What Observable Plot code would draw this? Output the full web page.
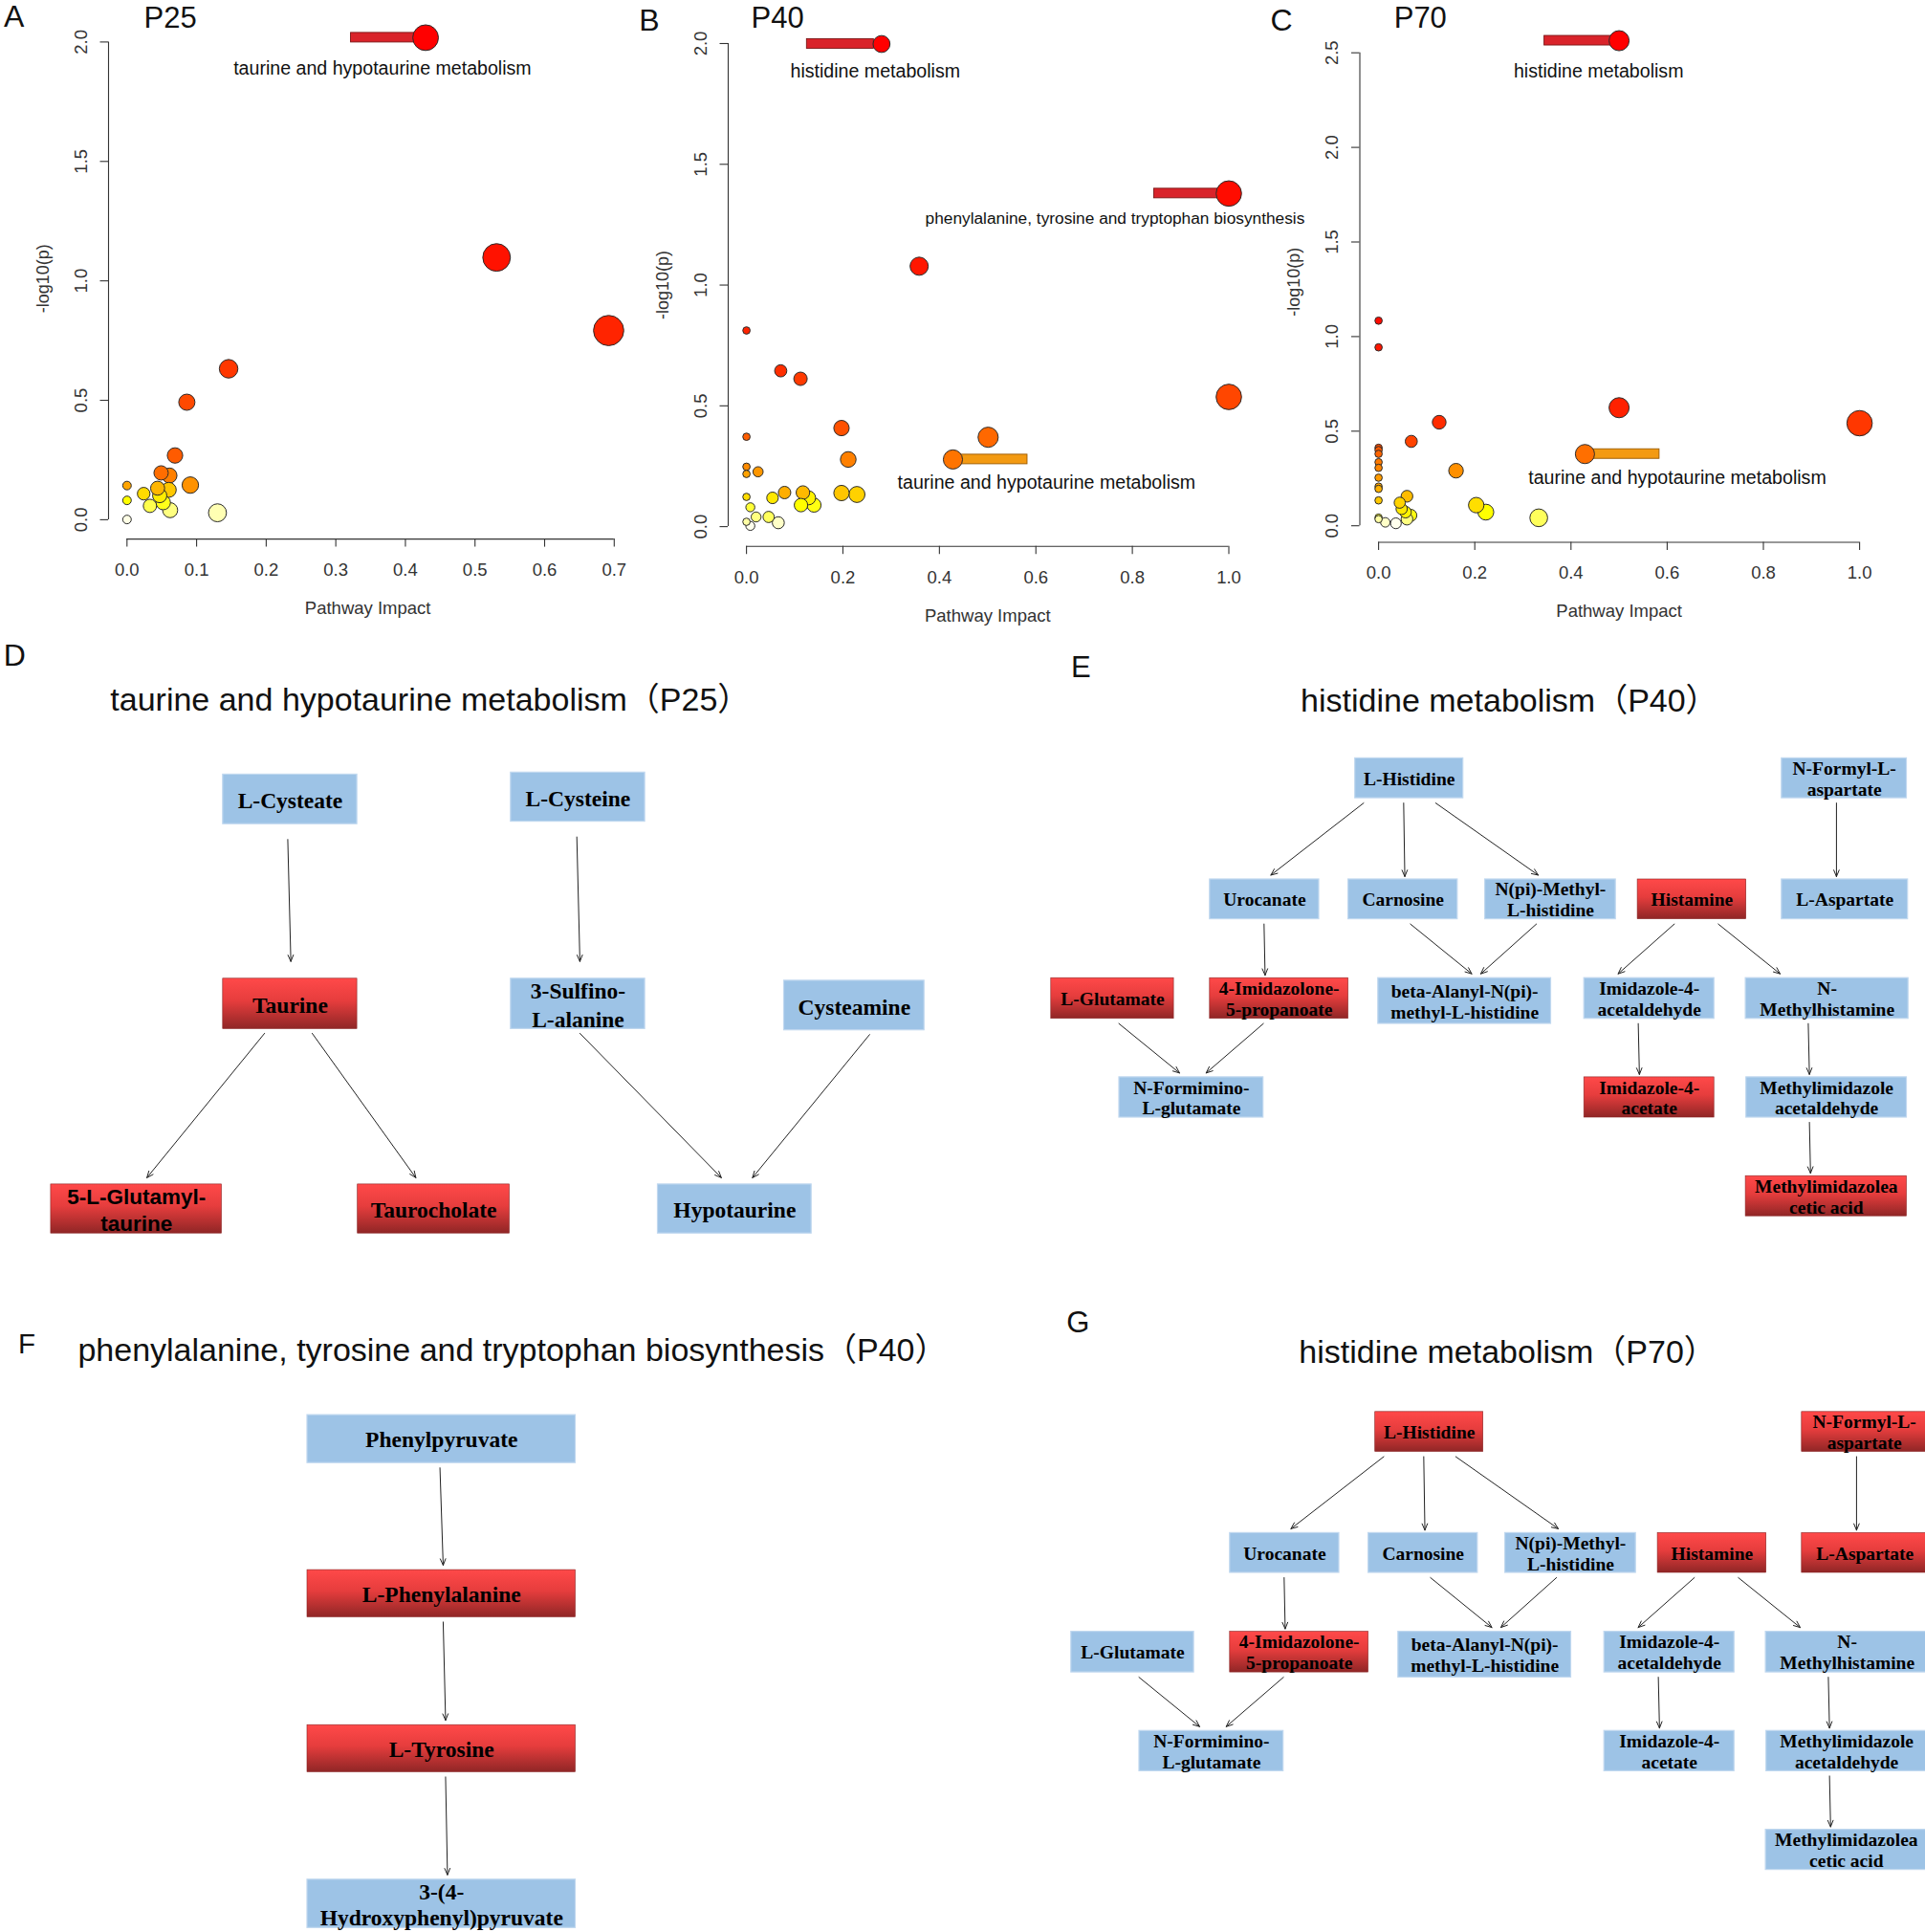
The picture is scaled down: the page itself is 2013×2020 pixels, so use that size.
<!DOCTYPE html>
<html><head><meta charset="utf-8">
<script src="https://cdn.jsdelivr.net/npm/d3@7"></script>
<script src="https://cdn.jsdelivr.net/npm/@observablehq/plot@0.6"></script>
<style>
html,body{margin:0;padding:0;background:#fff;}
#fig{position:relative;width:2013px;height:2020px;overflow:hidden;background:#fff;}
#fig svg{position:absolute;}
</style></head><body><div id="fig"></div>
<script>
// ---------------- DATA: pathway scatter panels ----------------
const p25Impact = [0.429,0.531,0.692,0.146,0.086,0.069,0.049,0.061,0.091,0.000,0.044,0.060,0.024,0.047,0.000,0.052,0.033,0.062,0.130,0.000];
const p25LogP   = [2.018,1.098,0.792,0.632,0.492,0.269,0.196,0.185,0.145,0.143,0.132,0.125,0.109,0.101,0.081,0.072,0.058,0.040,0.029,0.001];

const p40Impact = [0.280,1.000,0.358,0.000,0.071,0.112,1.000,0.197,0.000,0.501,0.428,0.211,0.000,0.024,0.000,0.079,0.117,0.197,0.229,0.000,0.054,0.129,0.113,0.140,0.008,0.046,0.020,0.000,0.066,0.008];
const p40LogP   = [1.998,1.379,1.078,0.812,0.645,0.612,0.537,0.408,0.372,0.370,0.278,0.278,0.248,0.227,0.218,0.141,0.141,0.139,0.133,0.123,0.119,0.119,0.089,0.089,0.080,0.040,0.040,0.020,0.016,0.003];

const p70Impact = [0.500,0.000,0.000,0.500,0.126,1.000,0.068,0.000,0.000,0.000,0.429,0.000,0.000,0.161,0.000,0.000,0.000,0.059,0.000,0.044,0.203,0.048,0.056,0.223,0.067,0.000,0.333,0.059,0.000,0.014,0.036];
const p70LogP   = [2.564,1.084,0.943,0.624,0.547,0.542,0.446,0.412,0.400,0.380,0.379,0.336,0.306,0.291,0.254,0.207,0.195,0.156,0.134,0.122,0.109,0.089,0.072,0.072,0.055,0.043,0.042,0.035,0.035,0.018,0.013];

// highlighted pathways: point, pin side, and label anchor (in data units)
const p25Labels = [
  {pathway: "taurine and hypotaurine metabolism", impact: 0.429, logp: 2.018, side: "left", textImpact: 0.367, textLogp: 1.888}
];
const p40Labels = [
  {pathway: "histidine metabolism", impact: 0.280, logp: 1.998, side: "left", textImpact: 0.267, textLogp: 1.885},
  {pathway: "phenylalanine, tyrosine and tryptophan biosynthesis", impact: 1.000, logp: 1.379, side: "left", textImpact: 0.764, textLogp: 1.275},
  {pathway: "taurine and hypotaurine metabolism", impact: 0.428, logp: 0.278, side: "right", textImpact: 0.622, textLogp: 0.183}
];
const p70Labels = [
  {pathway: "histidine metabolism", impact: 0.500, logp: 2.564, side: "left", textImpact: 0.4575, textLogp: 2.402},
  {pathway: "taurine and hypotaurine metabolism", impact: 0.429, logp: 0.379, side: "right", textImpact: 0.621, textLogp: 0.251}
];

const ticks07 = [0, 0.1, 0.2, 0.3, 0.4, 0.5, 0.6, 0.7];
const ticks10 = [0, 0.2, 0.4, 0.6, 0.8, 1.0];
const ticksY20 = [0, 0.5, 1.0, 1.5, 2.0];
const ticksY25 = [0, 0.5, 1.0, 1.5, 2.0, 2.5];
const xAxisTitle = "Pathway Impact";
const yAxisTitle = "-log10(p)";

// ---------------- DATA: pathway diagrams ----------------
const taurineNodes = ["L-Cysteate","L-Cysteine","Taurine","3-Sulfino-\nL-alanine","Cysteamine","5-L-Glutamyl-\ntaurine","Taurocholate","Hypotaurine"];
const taurineEdges = [
  ["L-Cysteate","Taurine",0.482,0.505],
  ["L-Cysteine","3-Sulfino-L-alanine",0.491,0.514],
  ["Taurine","5-L-Glutamyl-taurine",0.309,0.561],
  ["Taurine","Taurocholate",0.664,0.382],
  ["3-Sulfino-L-alanine","Hypotaurine",0.514,0.413],
  ["Cysteamine","Hypotaurine",0.609,0.615]
];
const p25TaurineUp = ["Taurine","5-L-Glutamyl-taurine","Taurocholate"];

const pheNodes = ["Phenylpyruvate","L-Phenylalanine","L-Tyrosine","3-(4-\nHydroxyphenyl)pyruvate"];
const pheEdges = [
  ["Phenylpyruvate","L-Phenylalanine",0.494,0.506],
  ["L-Phenylalanine","L-Tyrosine",0.506,0.515],
  ["L-Tyrosine","3-(4-Hydroxyphenyl)pyruvate",0.515,0.522]
];
const p40PheUp = ["L-Phenylalanine","L-Tyrosine"];

const hisNodes = ["L-Histidine","N-Formyl-L-\naspartate","Urocanate","Carnosine","N(pi)-Methyl-\nL-histidine","Histamine","L-Aspartate","L-Glutamate","4-Imidazolone-\n5-propanoate","beta-Alanyl-N(pi)-\nmethyl-L-histidine","Imidazole-4-\nacetaldehyde","N-\nMethylhistamine","N-Formimino-\nL-glutamate","Imidazole-4-\nacetate","Methylimidazole\nacetaldehyde","Methylimidazolea\ncetic acid"];
const hisEdges = [
  ["L-Histidine","Urocanate",0.078,0.557],
  ["L-Histidine","Carnosine",0.448,0.516],
  ["L-Histidine","N(pi)-Methyl-L-histidine",0.744,0.406],
  ["N-Formyl-L-aspartate","L-Aspartate",0.437,0.433],
  ["Urocanate","4-Imidazolone-5-propanoate",0.495,0.398],
  ["Carnosine","beta-Alanyl-N(pi)-methyl-L-histidine",0.567,0.541],
  ["N(pi)-Methyl-L-histidine","beta-Alanyl-N(pi)-methyl-L-histidine",0.392,0.593],
  ["Histamine","Imidazole-4-acetaldehyde",0.337,0.26],
  ["Histamine","N-Methylhistamine",0.741,0.211],
  ["L-Glutamate","N-Formimino-L-glutamate",0.551,0.418],
  ["4-Imidazolone-5-propanoate","N-Formimino-L-glutamate",0.386,0.602],
  ["Imidazole-4-acetaldehyde","Imidazole-4-acetate",0.415,0.424],
  ["N-Methylhistamine","Methylimidazoleacetaldehyde",0.384,0.393],
  ["Methylimidazoleacetaldehyde","Methylimidazoleacetic acid",0.393,0.402]
];
const p40HisUp = ["L-Glutamate","4-Imidazolone-5-propanoate","Histamine","Imidazole-4-acetate","Methylimidazoleacetic acid"];
const p70HisUp = ["L-Histidine","N-Formyl-L-aspartate","Histamine","L-Aspartate","4-Imidazolone-5-propanoate"];

// ---------------- LAYOUT (diagram box geometry, panel placement) ----------------
const taurineLayout = [[232.8,149.4,140.3,51.8],[533.8,147.3,140.3,51.3],[232.8,362.8,140.3,52.6],[533.8,362.8,140.3,52.6],[819.5,364.9,146.7,51.8],[52.9,577.9,178.6,51.3],[373.7,577.9,158.8,51.3],[687.5,577.9,160.7,51.3]];
const pheLayout = [[321,119.1,280.5,50.1],[321,281.1,280.5,49.3],[321,443.2,280.5,49.2],[321,604.8,280.5,50.5]];
const hisLayout = [[326.7,122.4,113,41.7],[772.8,122.4,130.7,41.7],[174.8,249,114.2,41.6],[319.6,249,114.2,41.6],[462.6,249,136.6,41.6],[622.1,249,113.6,41.6],[772.8,249,131.9,41.6],[8.8,352.2,128.3,42.5],[174.8,352.2,144.8,42.5],[350.8,352.2,180.7,47.8],[566.2,352.2,136,42.5],[735.1,352.2,170.1,42.5],[80,455.9,150.7,42.1],[566.2,455.9,136,42.1],[735.7,455.9,167.8,42.1],[735.1,559.2,168.4,42]];

const SANS = "'Liberation Sans', Arial, Helvetica, sans-serif";
const SERIF = "'Liberation Serif', 'Times New Roman', serif";
const TITLE_FONT = "'Liberation Sans', 'Noto Sans CJK SC', sans-serif";
const fig = document.getElementById("fig");

// R heat.colors(n)
function hsv(h, s, v) {
  const c = v * s, hp = h * 6, x = c * (1 - Math.abs(hp % 2 - 1)), m = v - c;
  let r = 0, g = 0, b = 0;
  if (hp < 1) { r = c; g = x; } else if (hp < 2) { r = x; g = c; } else { r = c; g = x; }
  return d3.rgb((r + m) * 255, (g + m) * 255, (b + m) * 255).formatHex();
}
function heatColors(n) {
  const j = Math.floor(n / 4), i = n - j, out = [];
  for (let k = 0; k < i; k++) out.push(hsv(i > 1 ? (k / (i - 1)) / 6 : 0, 1, 1));
  const s0 = 1 - 1 / (2 * j), s1 = 1 / (2 * j);
  for (let k = 0; k < j; k++) out.push(hsv(1 / 6, j > 1 ? s0 + (s1 - s0) * k / (j - 1) : s0, 1));
  return out;
}

function scatter(cfg) {
  const {ox, W, H, yAxX, xAxY, xp0, xp1, xMax, yp0, yp1, yMax, xTicks, yTicks, impact, logp, labels, letter, letterPos, tag, tagPos} = cfg;
  const pxX = (xp1 - xp0) / xMax, pxY = (yp0 - yp1) / yMax;
  const invX = (px) => (px - xp0) / pxX, invY = (py) => (yp0 - py) / pxY;
  const xMin = invX(yAxX), yMin = invY(xAxY);
  // points, ordered by significance (R draws most significant first)
  let pts = impact.map((x, i) => ({x, y: logp[i]}));
  pts.sort((a, b) => b.y - a.y);
  const cols = heatColors(pts.length);
  const sq = pts.map(d => Math.sqrt(d.x));
  const mn = d3.min(sq), mx = d3.max(sq);
  const maxR = (mx - mn) / 40, minR = (mx - mn) / 160;
  pts.forEach((d, i) => { d.fill = cols[i]; d.r = (minR + (maxR - minR) * (sq[i] - mn) / (mx - mn)) * pxX + 0.7; });
  const dataMidX = (d3.min(impact) + d3.max(impact)) / 2;
  const dataMidY = (d3.min(logp) + d3.max(logp)) / 2;
  const tickLen = 8.5;
  const fmt = d3.format(".1f");
  const plot = Plot.plot({
    width: W, height: H,
    marginLeft: yAxX - ox, marginRight: W - (xp1 - ox), marginTop: yp1, marginBottom: H - xAxY,
    style: {background: "none", overflow: "visible"},
    x: {domain: [xMin, xMax], axis: null},
    y: {domain: [yMin, yMax], axis: null},
    r: {type: "identity"},
    color: {type: "identity"},
    marks: [
      Plot.ruleY([yMin], {x1: 0, x2: xMax, stroke: "#333", strokeWidth: 1.1}),
      Plot.ruleX([xMin], {y1: 0, y2: yMax, stroke: "#333", strokeWidth: 1.1}),
      Plot.ruleX(xTicks, {x: d => d, y1: yMin, y2: invY(xAxY + tickLen), stroke: "#333", strokeWidth: 1.1}),
      Plot.ruleY(yTicks, {y: d => d, x1: xMin, x2: invX(yAxX - tickLen), stroke: "#333", strokeWidth: 1.1}),
      Plot.text(xTicks, {x: d => d, y: invY(xAxY + 32.4), text: d => fmt(d), fontSize: 18.5, fontFamily: SANS, fill: "#333"}),
      Plot.text(yTicks, {x: invX(yAxX - 28.6), y: d => d, text: d => fmt(d), rotate: -90, fontSize: 18.5, fontFamily: SANS, fill: "#333"}),
      Plot.text([xAxisTitle], {x: dataMidX, y: invY(xAxY + 72.5), text: d => d, fontSize: 18.5, fontFamily: SANS, fill: "#333"}),
      Plot.text([yAxisTitle], {x: invX(yAxX - 68.5), y: dataMidY, text: d => d, rotate: -90, fontSize: 18, fontFamily: SANS, fill: "#333"}),
      Plot.rect(labels, {
        x1: d => d.impact + (d.side === "left" ? -78 : 8) / pxX,
        x2: d => d.impact + (d.side === "left" ? -8 : 78) / pxX,
        y1: d => d.logp - 5 / pxY, y2: d => d.logp + 5 / pxY,
        fill: d => d.side === "left" ? "#d9232a" : "#f39a12",
        stroke: d => d.side === "left" ? "#7a1515" : "#9a5a00", strokeWidth: 0.9
      }),
      Plot.dot(pts, {x: "x", y: "y", r: "r", fill: "fill", stroke: "#2a2a2a", strokeWidth: 1}),
      Plot.text(labels, {x: "textImpact", y: "textLogp", text: "pathway", fontSize: d => d.pathway.length > 40 ? 17.3 : 19.6, fontFamily: SANS, fill: "#111"}),
      Plot.text([letter], {x: invX(letterPos[0]), y: invY(letterPos[1]), text: d => d, textAnchor: "start", lineAnchor: "bottom", fontSize: 32, fontFamily: SANS, fill: "#111"}),
      Plot.text([tag], {x: invX(tagPos[0]), y: invY(tagPos[1]), text: d => d, textAnchor: "start", lineAnchor: "bottom", fontSize: 31, fontFamily: SANS, fill: "#111"})
    ]
  });
  plot.style.left = ox + "px";
  plot.style.top = "0px";
  fig.appendChild(plot);
}

let gradCount = 0;
function diagram(cfg) {
  const {ox, oy, W, H, nodeOrigin, names, layout, up, edges, fontSize, lineHeight, vGap, dGap, title, titlePos, letter, letterPos, letterSize, sansNames = []} = cfg;
  const gid = "redgrad" + (gradCount++);
  const nodes = names.map((label, i) => {
    const [x, y, w, h] = layout[i];
    const id = label.replace(/\n/g, "");
    return {label, id, x: x + nodeOrigin[0], y: y + nodeOrigin[1], w, h, up: up.includes(id)};
  });
  const byId = new Map(nodes.map(n => [n.id, n]));
  const links = edges.map(([a, b, sx, ex]) => {
    const s = byId.get(a), t = byId.get(b);
    const x1 = s.x + s.w * sx, x2 = t.x + t.w * ex;
    const vertical = Math.abs(x2 - x1) < 12;
    const g = vertical ? vGap : dGap;
    return {x1, y1: s.y + s.h + g[0], x2, y2: t.y - g[1]};
  });
  const defs = () => {
    const d = d3.create("svg:defs");
    const lg = d.append("linearGradient").attr("id", gid).attr("x1", 0).attr("y1", 0).attr("x2", 0).attr("y2", 1);
    lg.append("stop").attr("offset", "0%").attr("stop-color", "#ff4949");
    lg.append("stop").attr("offset", "45%").attr("stop-color", "#e63d3d");
    lg.append("stop").attr("offset", "100%").attr("stop-color", "#902626");
    return d.node();
  };
  const serifNodes = nodes.filter(n => !sansNames.includes(n.id));
  const sansNodes = nodes.filter(n => sansNames.includes(n.id));
  const plot = Plot.plot({
    width: W, height: H, margin: 0,
    style: {background: "none", overflow: "visible"},
    x: {domain: [ox, ox + W], range: [0, W], axis: null},
    y: {domain: [oy, oy + H], range: [0, H], axis: null},
    marks: [
      defs,
      Plot.rect(nodes.filter(n => !n.up), {x1: "x", x2: d => d.x + d.w, y1: "y", y2: d => d.y + d.h, fill: "#9dc3e6", stroke: "#c0d8ef", strokeWidth: 1.2}),
      Plot.rect(nodes.filter(n => n.up), {x1: "x", x2: d => d.x + d.w, y1: "y", y2: d => d.y + d.h, fill: `url(#${gid})`, stroke: "#8a2424", strokeWidth: 0.6}),
      Plot.text(serifNodes, {x: d => d.x + d.w / 2, y: d => d.y + d.h / 2, text: "label", fontSize, lineHeight, fontWeight: "bold", fontFamily: SERIF, fill: "#000"}),
      Plot.text(sansNodes, {x: d => d.x + d.w / 2, y: d => d.y + d.h / 2, text: "label", fontSize: fontSize - 1, lineHeight, fontWeight: "bold", fontFamily: SANS, fill: "#000"}),
      Plot.arrow(links, {x1: "x1", y1: "y1", x2: "x2", y2: "y2", stroke: "#222", strokeWidth: 1, headLength: 11, headAngle: 45}),
      Plot.text([title], {x: titlePos[0], y: titlePos[1], text: d => d, textAnchor: "start", lineAnchor: "bottom", fontSize: 34, fontFamily: TITLE_FONT, fill: "#111"}),
      Plot.text([letter], {x: letterPos[0], y: letterPos[1], text: d => d, textAnchor: "start", lineAnchor: "bottom", fontSize: letterSize, fontFamily: SANS, fill: "#111"})
    ]
  });
  plot.style.left = ox + "px";
  plot.style.top = oy + "px";
  fig.appendChild(plot);
}

// ---------------- Panels A–C ----------------
scatter({ox: 0, W: 660, H: 660, yAxX: 113, xAxY: 563.1, xp0: 132.3, xp1: 641.8, xMax: 0.7, yp0: 542.9, yp1: 43.4, yMax: 2.0,
  xTicks: ticks07, yTicks: ticksY20, impact: p25Impact, logp: p25LogP, labels: p25Labels,
  letter: "A", letterPos: [3.5, 27.5], tag: "P25", tagPos: [150, 28]});
scatter({ox: 660, W: 720, H: 660, yAxX: 761, xAxY: 570.7, xp0: 780.1, xp1: 1284.5, xMax: 1.0, yp0: 550.1, yp1: 45, yMax: 2.0,
  xTicks: ticks10, yTicks: ticksY20, impact: p40Impact, logp: p40LogP, labels: p40Labels,
  letter: "B", letterPos: [667.8, 31], tag: "P40", tagPos: [785, 28]});
scatter({ox: 1325, W: 688, H: 660, yAxX: 1421.5, xAxY: 566.5, xp0: 1441.1, xp1: 1944.1, xMax: 1.0, yp0: 549.2, yp1: 54.7, yMax: 2.5,
  xTicks: ticks10, yTicks: ticksY25, impact: p70Impact, logp: p70LogP, labels: p70Labels,
  letter: "C", letterPos: [1328, 31], tag: "P70", tagPos: [1457.2, 28.5]});

// ---------------- Panels D–G ----------------
diagram({ox: 0, oy: 660, W: 1000, H: 680, nodeOrigin: [0, 660], names: taurineNodes, layout: taurineLayout, up: p25TaurineUp, edges: taurineEdges,
  fontSize: 23.5, lineHeight: 1.25, vGap: [16, 18], dGap: [4.5, 7], sansNames: ["5-L-Glutamyl-taurine"],
  title: "taurine and hypotaurine metabolism（P25）", titlePos: [114.8, 742.5], letter: "D", letterPos: [3.2, 695.8], letterSize: 32});
diagram({ox: 1090, oy: 670, W: 923, H: 640, nodeOrigin: [1090, 670], names: hisNodes, layout: hisLayout, up: p40HisUp, edges: hisEdges,
  fontSize: 19.5, lineHeight: 1.12, vGap: [5, 3], dGap: [5, 4.5],
  title: "histidine metabolism（P40）", titlePos: [1359.6, 743.6], letter: "E", letterPos: [1119.4, 707.6], letterSize: 31});
diagram({ox: 0, oy: 1340, W: 1060, H: 680, nodeOrigin: [0, 1360], names: pheNodes, layout: pheLayout, up: p40PheUp, edges: pheEdges,
  fontSize: 23.5, lineHeight: 1.16, vGap: [5, 5], dGap: [5, 5],
  title: "phenylalanine, tyrosine and tryptophan biosynthesis（P40）", titlePos: [80.9, 1422.4], letter: "F", letterPos: [18.6, 1414.7], letterSize: 29.5});
diagram({ox: 1090, oy: 1340, W: 923, H: 680, nodeOrigin: [1111, 1353.4], names: hisNodes, layout: hisLayout, up: p70HisUp, edges: hisEdges,
  fontSize: 19.5, lineHeight: 1.12, vGap: [5, 3], dGap: [5, 4.5],
  title: "histidine metabolism（P70）", titlePos: [1357.8, 1424.1], letter: "G", letterPos: [1114.7, 1392.5], letterSize: 31});
</script>
</body></html>
